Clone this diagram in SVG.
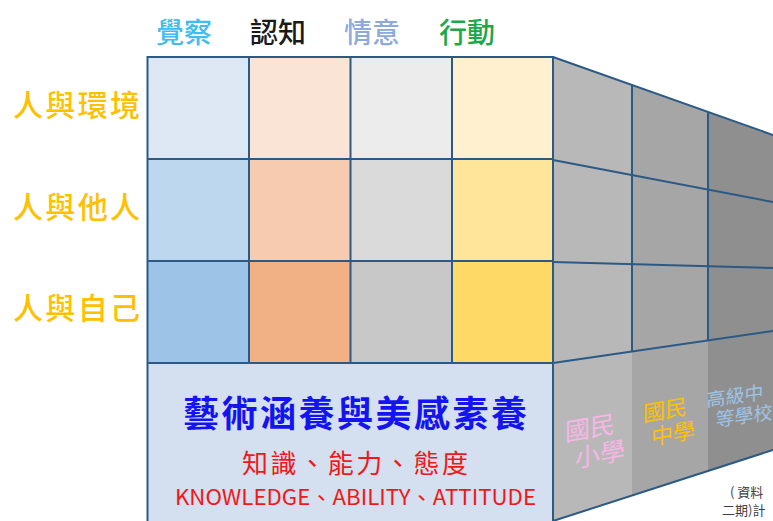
<svg xmlns="http://www.w3.org/2000/svg" width="773" height="521" viewBox="0 0 773 521">
<style>
.cjk{font-family:"Noto Sans CJK TC","Noto Sans CJK SC",sans-serif;}
.grid{stroke:#2a5a85;stroke-width:2;fill:none;}
.hdr{font-size:28px;text-anchor:middle;font-weight:500;}
.row{font-size:30px;fill:#ffc000;font-weight:500;}
</style>
<rect width="773" height="521" fill="#ffffff"/>

<g id="side-face">
  <polygon points="553,57 632,85 632,495.5 553,521" fill="#b8b8b8"/>
  <polygon points="632,85 708,112 708,471 632,495.5" fill="#a6a6a6"/>
  <polygon points="708,112 773,135 773,450 708,471" fill="#8f8f8f"/>
</g>

<g id="front-cells">
  <rect x="147.5" y="57" width="101.5" height="102" fill="#dde8f4"/>
  <rect x="249" y="57" width="101.5" height="102" fill="#fae4d6"/>
  <rect x="350.5" y="57" width="101.5" height="102" fill="#ececec"/>
  <rect x="452" y="57" width="101" height="102" fill="#fff1cf"/>
  <rect x="147.5" y="159" width="101.5" height="102" fill="#bdd7ee"/>
  <rect x="249" y="159" width="101.5" height="102" fill="#f7cbb0"/>
  <rect x="350.5" y="159" width="101.5" height="102" fill="#dadada"/>
  <rect x="452" y="159" width="101" height="102" fill="#ffe59a"/>
  <rect x="147.5" y="261" width="101.5" height="102" fill="#9dc3e6"/>
  <rect x="249" y="261" width="101.5" height="102" fill="#f2b085"/>
  <rect x="350.5" y="261" width="101.5" height="102" fill="#c8c8c8"/>
  <rect x="452" y="261" width="101" height="102" fill="#ffd966"/>
</g>

<g id="base-box">
  <rect x="147.5" y="363" width="405.5" height="170" fill="#d4dff0"/>
  <text class="cjk" x="183" y="427" font-size="36" font-weight="bold" fill="#1414f0" textLength="344" lengthAdjust="spacing">藝術涵養與美感素養</text>
  <text class="cjk" x="242" y="473" font-size="26" fill="#f01818" textLength="226" lengthAdjust="spacing">知識、能力、態度</text>
  <text class="cjk" x="175" y="505" font-size="21" fill="#f01818" textLength="361" lengthAdjust="spacingAndGlyphs">KNOWLEDGE、ABILITY、ATTITUDE</text>
</g>

<g id="connectors" class="grid">
  <rect x="147.5" y="57" width="405.5" height="480"/>
  <line x1="147.5" y1="159" x2="553" y2="159"/>
  <line x1="147.5" y1="261" x2="553" y2="261"/>
  <line x1="147.5" y1="363" x2="553" y2="363"/>
  <line x1="249" y1="57" x2="249" y2="363"/>
  <line x1="350.5" y1="57" x2="350.5" y2="363"/>
  <line x1="452" y1="57" x2="452" y2="363"/>
  <line x1="553" y1="57" x2="773" y2="135"/>
  <line x1="553" y1="160" x2="773" y2="202"/>
  <line x1="553" y1="262" x2="773" y2="268"/>
  <line x1="553" y1="363" x2="773" y2="331"/>
  <line x1="553" y1="521" x2="773" y2="450"/>
  <line x1="632" y1="85" x2="632" y2="351.5"/>
  <line x1="708" y1="112" x2="708" y2="340.5"/>
</g>

<g id="headers" class="cjk">
  <text class="hdr" x="184" y="43" fill="#3dbdf0">覺察</text>
  <text class="hdr" x="278" y="43" fill="#1a1a1a">認知</text>
  <text class="hdr" x="372" y="43" fill="#8eaadb">情意</text>
  <text class="hdr" x="467" y="43" fill="#1da84a">行動</text>
</g>

<g id="row-labels" class="cjk">
  <text class="row" x="13" y="116" textLength="127" lengthAdjust="spacing">人與環境</text>
  <text class="row" x="13" y="218" textLength="127" lengthAdjust="spacing">人與他人</text>
  <text class="row" x="13" y="319" textLength="127" lengthAdjust="spacing">人與自己</text>
</g>

<g id="school-labels" class="cjk" text-anchor="middle">
  <g transform="translate(590,437) skewY(-10)">
    <text x="0" y="0" font-size="25" fill="#f7b6e6">國民</text>
    <text x="10" y="28" font-size="25" fill="#f7b6e6">小學</text>
  </g>
  <g transform="translate(665,418) skewY(-10)">
    <text x="0" y="0" font-size="22" fill="#ffc000">國民</text>
    <text x="8" y="25" font-size="22" fill="#ffc000">中學</text>
  </g>
  <g transform="translate(735,403) skewY(-8)">
    <text x="0" y="0" font-size="19" fill="#9dc3e6">高級中</text>
    <text x="9" y="21" font-size="19" fill="#9dc3e6">等學校</text>
  </g>
</g>

<g id="source-note" class="cjk" font-size="13" fill="#404040">
  <text x="730" y="497">( 資料</text>
  <text x="722" y="515">二期)計</text>
</g>
</svg>
